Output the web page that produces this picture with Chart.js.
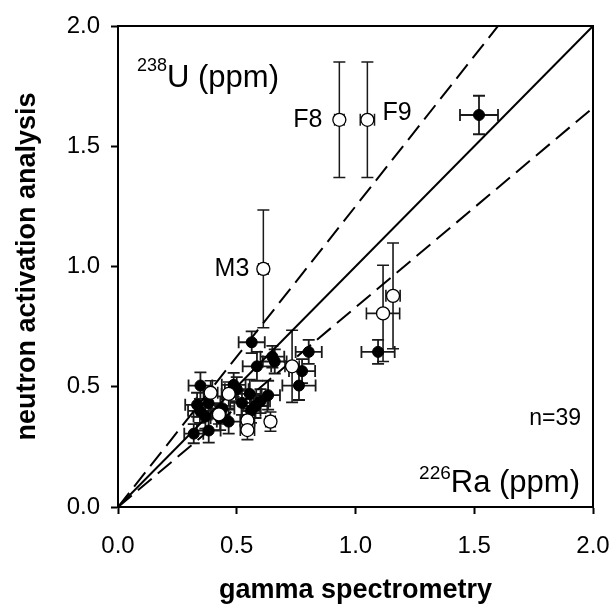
<!DOCTYPE html>
<html><head><meta charset="utf-8">
<style>html,body{margin:0;padding:0;background:#fff}</style>
<script src="https://cdn.jsdelivr.net/npm/chart.js@4/dist/chart.umd.min.js"></script>
</head><body>
<canvas id="c" width="611" height="607" style="display:block"></canvas>
<script>
// ---- data ----
const filledX    = [1.52, 1.095, 0.563, 0.65, 0.66, 0.803, 0.585, 0.775, 0.762, 0.347, 0.487, 0.555, 0.632, 0.333, 0.381, 0.522, 0.579, 0.319, 0.382, 0.466, 0.368, 0.345, 0.44, 0.50, 0.56, 0.43, 0.60];
const filledY    = [1.63, 0.645, 0.685, 0.625, 0.605, 0.645, 0.585, 0.565, 0.505, 0.505, 0.508, 0.47, 0.465, 0.425, 0.432, 0.433, 0.42, 0.305, 0.318, 0.355, 0.376, 0.40, 0.41, 0.49, 0.40, 0.37, 0.44];
const filledXErr = [0.08, 0.07, 0.055, 0.05, 0.05, 0.055, 0.06, 0.055, 0.07, 0.05, 0.05, 0.05, 0.05, 0.05, 0.05, 0.05, 0.05, 0.04, 0.05, 0.05, 0.05, 0.05, 0.05, 0.05, 0.04, 0.04, 0.04];
const filledYErr = [0.08, 0.05, 0.045, 0.045, 0.05, 0.05, 0.06, 0.05, 0.06, 0.055, 0.05, 0.06, 0.06, 0.05, 0.05, 0.05, 0.05, 0.04, 0.05, 0.05, 0.05, 0.05, 0.05, 0.05, 0.05, 0.05, 0.05];

const openX    = [1.158, 1.116, 0.733, 0.39, 0.466, 0.425, 0.545, 0.545, 0.642];
const openY    = [0.878, 0.805, 0.585, 0.475, 0.47, 0.385, 0.36, 0.32, 0.355];
const openXErr = [0.03, 0.07, 0.03, 0.03, 0.03, 0.03, 0.03, 0.03, 0.02];
const openYErr = [0.22, 0.20, 0.15, 0.05, 0.05, 0.04, 0.04, 0.04, 0.04];

const labeledNames = ['F8', 'F9', 'M3'];
const labeledX     = [0.932, 1.05, 0.612];
const labeledY     = [1.61, 1.61, 0.99];
const labeledXErr  = [0.02, 0.03, 0.02];
const labeledYErr  = [0.24, 0.24, 0.245];

const refLineX = [0, 2];
const refSlopes = [1.0, 1.25, 0.83];   // 1:1 line and the two dashed bounds

const xTickLabels = ['0.0', '0.5', '1.0', '1.5', '2.0'];
const yTickLabels = ['0.0', '0.5', '1.0', '1.5', '2.0'];

const xTitle = 'gamma spectrometry';
const yTitle = 'neutron activation analysis';
const nText = 'n=39';

// ---- build ----
const pts = (xs, ys) => xs.map((x, i) => ({x, y: ys[i]}));
const lineData = s => refLineX.map(x => ({x, y: x * s}));

const FONT = "'Liberation Sans', Arial, sans-serif";

const errorBars = {
  id: 'errorBars',
  beforeDatasetsDraw(chart) {
    const {ctx, scales: {x: xs, y: ys}} = chart;
    const sets = [
      [filledX, filledY, filledXErr, filledYErr, 1.8],
      [openX, openY, openXErr, openYErr, 1.6],
      [labeledX, labeledY, labeledXErr, labeledYErr, 1.5]
    ];
    ctx.save();
    ctx.strokeStyle = '#1a1a1a';
    const cap = 6;
    sets.forEach(([X, Y, EX, EY, lw]) => {
      ctx.lineWidth = lw;
      X.forEach((xv, i) => {
        const px = xs.getPixelForValue(xv), py = ys.getPixelForValue(Y[i]);
        const x1 = xs.getPixelForValue(xv - EX[i]), x2 = xs.getPixelForValue(xv + EX[i]);
        const y1 = ys.getPixelForValue(Y[i] - EY[i]), y2 = ys.getPixelForValue(Y[i] + EY[i]);
        ctx.beginPath();
        ctx.moveTo(x1, py); ctx.lineTo(x2, py);
        ctx.moveTo(x1, py - cap); ctx.lineTo(x1, py + cap);
        ctx.moveTo(x2, py - cap); ctx.lineTo(x2, py + cap);
        ctx.moveTo(px, y1); ctx.lineTo(px, y2);
        ctx.moveTo(px - cap, y1); ctx.lineTo(px + cap, y1);
        ctx.moveTo(px - cap, y2); ctx.lineTo(px + cap, y2);
        ctx.stroke();
      });
    });
    ctx.restore();
  }
};

function supText(ctx, sup, main, x, y, supSize, mainSize, supRaise, alignRight) {
  ctx.font = supSize + 'px ' + FONT;
  const ws = ctx.measureText(sup).width;
  ctx.font = mainSize + 'px ' + FONT;
  const wm = ctx.measureText(main).width;
  const left = alignRight ? x - ws - wm : x;
  ctx.textAlign = 'left';
  ctx.textBaseline = 'alphabetic';
  ctx.font = supSize + 'px ' + FONT;
  ctx.fillText(sup, left, y - supRaise);
  ctx.font = mainSize + 'px ' + FONT;
  ctx.fillText(main, left + ws, y);
}

const annot = {
  id: 'annot',
  afterDatasetsDraw(chart) {
    const {ctx, chartArea: a, scales: {x: xs, y: ys}} = chart;
    ctx.save();
    // frame top & right
    ctx.strokeStyle = '#000';
    ctx.lineWidth = 2;
    ctx.beginPath();
    ctx.moveTo(a.left, a.top); ctx.lineTo(a.right, a.top); ctx.lineTo(a.right, a.bottom);
    ctx.stroke();
    ctx.fillStyle = '#000';
    // point labels
    ctx.font = '25px ' + FONT;
    ctx.textBaseline = 'middle';
    const offs = [[-17, 0, 'right'], [15, -7, 'left'], [-14, 0, 'right']];
    labeledNames.forEach((n, i) => {
      ctx.textAlign = offs[i][2];
      ctx.fillText(n, xs.getPixelForValue(labeledX[i]) + offs[i][0], ys.getPixelForValue(labeledY[i]) + offs[i][1]);
    });
    // n=39
    ctx.font = '23px ' + FONT;
    ctx.textAlign = 'right';
    ctx.fillText(nText, a.right - 12, a.top + 393);
    // corner labels
    supText(ctx, '238', 'U (ppm)', a.left + 19, a.top + 61, 18, 31, 16, false);
    supText(ctx, '226', 'Ra (ppm)', a.right - 13, a.top + 466, 19, 31, 13, true);
    ctx.restore();
  }
};

const scaleCommon = (labels) => ({
  type: 'linear', min: 0, max: 2,
  ticks: {
    stepSize: 0.5, color: '#000', font: {family: FONT, size: 24},
    callback: (v, i) => labels[i]
  },
  grid: {display: true, drawOnChartArea: false, drawTicks: true, tickLength: 7, tickWidth: 2, color: '#000'},
  border: {display: true, color: '#000', width: 2}
});

const xScale = scaleCommon(xTickLabels);
xScale.ticks.padding = 18;
xScale.title = {display: true, text: xTitle, color: '#000', font: {family: FONT, size: 27, weight: 'bold'}, padding: {top: 0, bottom: 0}};
xScale.afterFit = s => { s.height = 100; s.paddingLeft = 0; s.paddingRight = 0; };

const yScale = scaleCommon(yTickLabels);
yScale.ticks.padding = 11;
yScale.title = {display: true, text: yTitle, color: '#000', font: {family: FONT, size: 27, weight: 'bold'}, padding: {top: 11, bottom: 0}};
yScale.afterFit = s => { s.width = 118; s.paddingTop = 0; s.paddingBottom = 0; };

new Chart(document.getElementById('c'), {
  type: 'scatter',
  data: {
    datasets: [
      {data: pts(labeledX, labeledY), pointRadius: 6.5, pointBackgroundColor: '#fff', pointBorderColor: '#000', pointBorderWidth: 1.3},
      {data: pts(openX, openY), pointRadius: 6.5, pointBackgroundColor: '#fff', pointBorderColor: '#000', pointBorderWidth: 1.3},
      {data: pts(filledX, filledY), pointRadius: 5.5, pointBackgroundColor: '#000', pointBorderColor: '#000', pointBorderWidth: 1},
      {type: 'line', data: lineData(refSlopes[0]), borderColor: '#000', borderWidth: 2, pointRadius: 0, fill: false},
      {type: 'line', data: lineData(refSlopes[1]), borderColor: '#000', borderWidth: 2, borderDash: [18, 8], pointRadius: 0, fill: false},
      {type: 'line', data: lineData(refSlopes[2]), borderColor: '#000', borderWidth: 2, borderDash: [18, 8], pointRadius: 0, fill: false}
    ]
  },
  options: {
    responsive: false, animation: false, devicePixelRatio: 1,
    layout: {padding: {top: 26, right: 18, left: 0, bottom: 0}},
    plugins: {legend: {display: false}, tooltip: {enabled: false}},
    scales: {x: xScale, y: yScale}
  },
  plugins: [errorBars, annot]
});
</script>
</body></html>
